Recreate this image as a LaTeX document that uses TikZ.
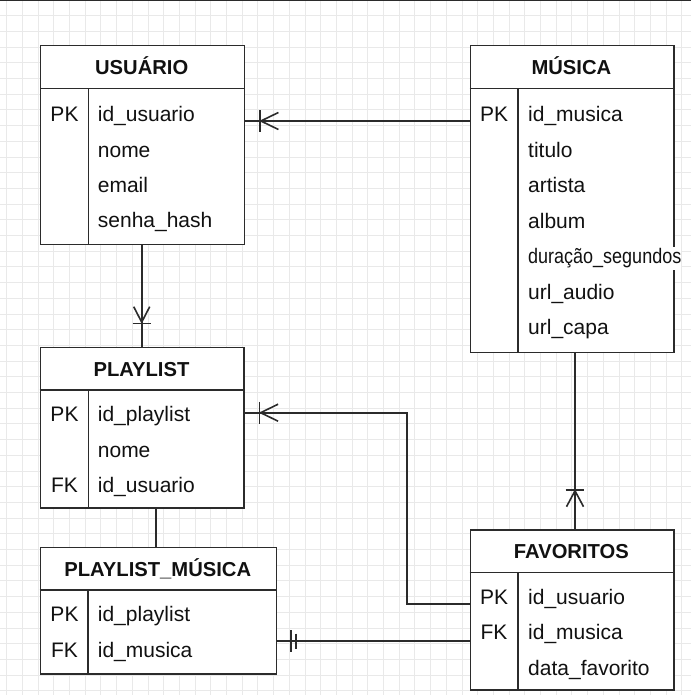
\documentclass[tikz,border=0pt]{standalone}
\usepackage{fontspec}
\setmainfont{Liberation Sans}
\usetikzlibrary{calc}
\definecolor{gridc}{HTML}{E9E9E9}
\definecolor{linec}{HTML}{2B2B2B}
\definecolor{textc}{HTML}{111111}
\tikzset{
  gridline/.style={draw=gridc, line width=0.9pt},
  erbox/.style={draw=linec, fill=white, line width=1.4pt, inner sep=0, anchor=north west},
  divline/.style={draw=linec, line width=1.4pt},
  conn/.style={draw=linec, line width=1.6pt},
  ertitle/.style={font=\bfseries\fontsize{20.2}{24}\selectfont, text=textc, anchor=base, inner sep=0},
  erkey/.style={font=\fontsize{21}{24}\selectfont, text=textc, anchor=base, inner sep=0},
  erfield/.style={font=\fontsize{21}{24}\selectfont, text=textc, anchor=base west, inner sep=0},
  manyleft/.pic={\draw[conn] (15,-10.8) -- (15,10.8); \draw[conn] (33.5,-8.5) -- (16,0) -- (33.5,8.5);},
  manyabove/.pic={\draw[conn] (-9,-23.4) -- (9.3,-23.4); \draw[conn] (-8,-40) -- (0,-24.5) -- (8,-40);},
  manytop/.pic={\draw[conn] (-9.5,-39.3) -- (9,-39.3); \draw[conn] (-8.5,-22.6) -- (0,-38.5) -- (8.5,-22.6);},
  oneright/.pic={\draw[conn] (13.3,-10.8) -- (13.3,10.8); \draw[conn] (18.3,-7.5) -- (18.3,7.5);},
}
\newcommand\erentity[5]{%
  \node[erbox, minimum width=#4pt, minimum height=#5pt] (#1) at (#2,#3) {};
  \draw[divline] ($(#1.north west)+(0,43.3)$) -- ($(#1.north east)+(0,43.3)$);
  \draw[divline] ($(#1.north west)+(48.5,43.3)$) -- ($(#1.south west)+(48.5,0)$);
}
\begin{document}
\begin{tikzpicture}[x=1pt,y=-1pt]
\clip (0,0) rectangle (691,695);
\fill[white] (0,0) rectangle (691,695);
% grid
\foreach \i in {0,...,44} { \draw[gridline] ({6.7+15.7*\i},0) -- ({6.7+15.7*\i},695); }
\foreach \i in {0,...,45} { \draw[gridline] (0,{15.7*\i}) -- (691,{15.7*\i}); }
\draw[draw=linec, line width=3pt] (0,0) -- (691,0);

% entities
\erentity{usu}{40}{45}{203.5}{198.5}
\erentity{mus}{469.5}{45}{203.8}{306.7}
\erentity{pl}{39.7}{346.7}{203.5}{160.6}
\erentity{pm}{39.5}{546.7}{236.5}{126.6}
\erentity{fav}{469.5}{529.3}{203.8}{160}

% USUARIO
\node[ertitle] (tusu) at (141.7,74.3) {USUÁRIO};
\node[erkey] (kusu1) at (64.5,121.5) {PK};
\node[erfield] (fusu1) at (97.7,121.5) {id\_usuario};
\node[erfield] (fusu2) at (97.7,157.5) {nome};
\node[erfield] (fusu3) at (97.7,192.5) {email};
\node[erfield] (fusu4) at (97.7,227.8) {senha\_hash};

% MUSICA
\node[ertitle] (tmus) at (571.4,74.3) {MÚSICA};
\node[erkey] (kmus1) at (494,121.5) {PK};
\node[erfield] (fmus1) at (528,121.5) {id\_musica};
\node[erfield] (fmus2) at (528,157.2) {titulo};
\node[erfield] (fmus3) at (528,192.7) {artista};
\node[erfield] (fmus4) at (528,228.2) {album};
\node[erfield, fill=white, inner ysep=1.5pt] (fmus5) at (528,263.7) {\scalebox{0.857}[1]{duração\_segundos}};
\node[erfield] (fmus6) at (528,299.2) {url\_audio};
\node[erfield] (fmus7) at (528,334.7) {url\_capa};

% PLAYLIST
\node[ertitle] (tpl) at (141.5,376) {PLAYLIST};
\node[erkey] (kpl1) at (64.5,421.7) {PK};
\node[erkey] (kpl3) at (64.5,492.7) {FK};
\node[erfield] (fpl1) at (97.7,421.7) {id\_playlist};
\node[erfield] (fpl2) at (97.7,457.2) {nome};
\node[erfield] (fpl3) at (97.7,492.7) {id\_usuario};

% PLAYLIST_MUSICA
\node[ertitle] (tpm) at (157.75,576) {PLAYLIST\_MÚSICA};
\node[erkey] (kpm1) at (64.5,621.7) {PK};
\node[erkey] (kpm2) at (64.5,657.2) {FK};
\node[erfield] (fpm1) at (97.7,621.7) {id\_playlist};
\node[erfield] (fpm2) at (97.7,657.2) {id\_musica};

% FAVORITOS
\node[ertitle] (tfav) at (571.4,558.6) {FAVORITOS};
\node[erkey] (kfav1) at (494,604.3) {PK};
\node[erkey] (kfav2) at (494,639.8) {FK};
\node[erfield] (ffav1) at (528,604.3) {id\_usuario};
\node[erfield] (ffav2) at (528,639.8) {id\_musica};
\node[erfield] (ffav3) at (528,675.3) {data\_favorito};

% helper coordinates
\coordinate (y121) at (0,121);
\coordinate (x142) at (141.7,0);
\coordinate (x156) at (156,0);
\coordinate (x575) at (575,0);
\coordinate (y604) at (0,604);
\coordinate (bend) at (407,412.7);
\coordinate (y641) at (0,641);

% connectors
\draw[conn] (mus.west |- y121) -- (usu.east |- y121);
\pic at (usu.east |- y121) {manyleft};

\draw[conn] (usu.south -| x142) -- (pl.north -| x142);
\pic at (pl.north -| x142) {manyabove};

\draw[conn] (pl.south -| x156) -- (pm.north -| x156);

\draw[conn] (mus.south -| x575) -- (fav.north -| x575);
\pic at (fav.north -| x575) {manytop};

\draw[conn] (fav.west |- y604) -| (bend) -- (pl.east |- bend);
\pic at (pl.east |- bend) {manyleft};

\draw[conn] (fav.west |- y641) -- (pm.east |- y641);
\pic at (pm.east |- y641) {oneright};
\end{tikzpicture}
\end{document}
